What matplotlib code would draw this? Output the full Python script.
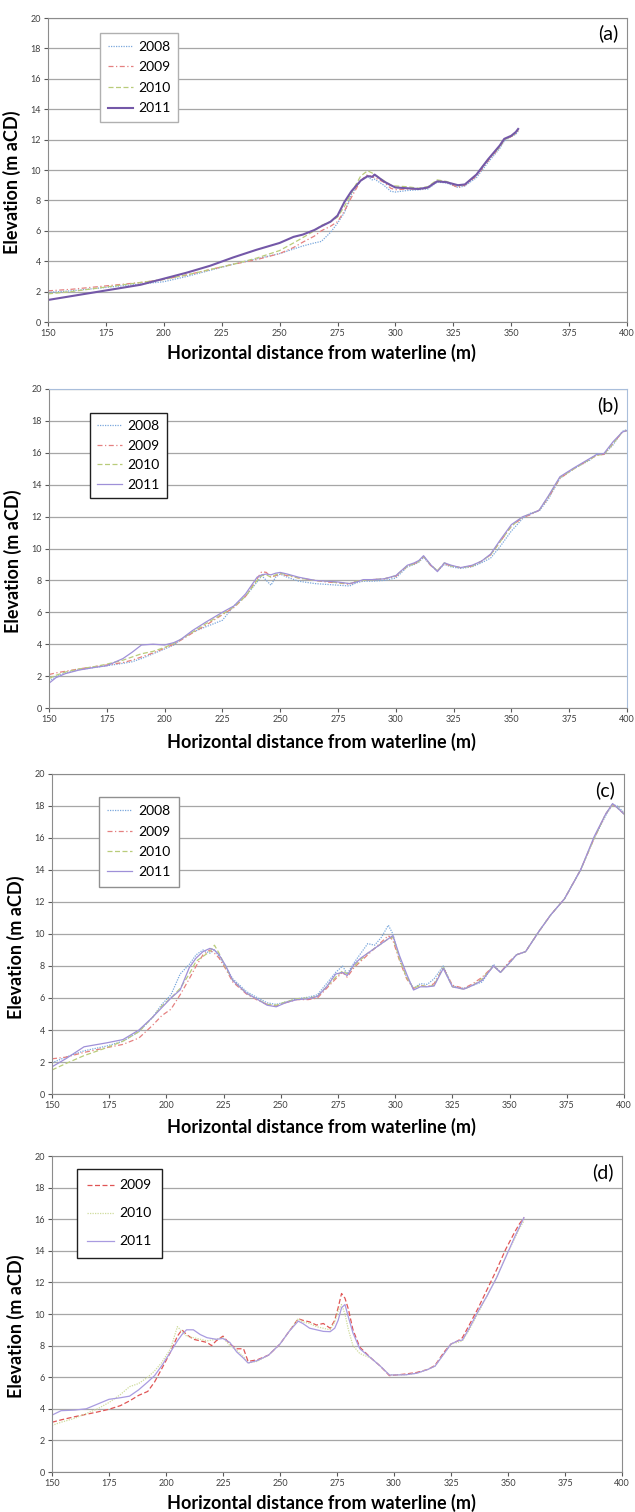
import matplotlib
matplotlib.use('Agg')
import matplotlib.pyplot as plt

plt.rcParams['font.family'] = ['Lato', 'DejaVu Sans']

# ---- data ----
years = ['2008', '2009', '2010', '2011']

# panel (a)
a_x = [150, 160, 170, 180, 190, 200, 210, 220, 230, 240, 250, 256, 260, 265, 268, 272, 275, 278, 281, 285,
       288, 290, 291, 295, 298, 300, 305, 310, 314, 318, 322, 327, 330, 335, 340, 345, 347, 350, 352, 353]
a_2008 = [1.95, 2.05, 2.2, 2.35, 2.5, 2.65, 3.0, 3.4, 3.8, 4.15, 4.5, 4.8, 5.0, 5.2, 5.3, 5.9, 6.5, 7.2, 8.4, 9.3,
          9.55, 9.35, 9.4, 9.0, 8.6, 8.55, 8.65, 8.7, 8.75, 9.2, 9.15, 8.85, 8.95, 9.5, 10.5, 11.4, 11.9, 12.2, 12.35, 12.55]
a_2009 = [2.05, 2.15, 2.3, 2.45, 2.6, 2.8, 3.1, 3.45, 3.8, 4.1, 4.5, 4.9, 5.25, 5.65, 6.0, 6.3, 6.6, 7.3, 8.2, 9.3,
          9.7, 9.55, 9.5, 9.2, 8.8, 8.7, 8.75, 8.75, 8.8, 9.3, 9.2, 8.85, 9.0, 9.6, 10.6, 11.5, 12.0, 12.2, 12.4, 12.6]
a_2010 = [1.85, 2.0, 2.2, 2.4, 2.6, 2.8, 3.1, 3.45, 3.8, 4.2, 4.7, 5.2, 5.55, 6.0, 6.35, 6.6, 6.9, 7.6, 8.5, 9.6,
          9.95, 9.8, 9.7, 9.3, 9.0, 8.95, 8.9, 8.8, 8.9, 9.35, 9.25, 8.95, 9.05, 9.7, 10.7, 11.5, 12.0, 12.2, 12.45, 12.6]
a_2011 = [1.45, 1.7, 1.95, 2.2, 2.45, 2.85, 3.25, 3.7, 4.25, 4.75, 5.2, 5.6, 5.75, 6.05, 6.3, 6.6, 7.0, 7.9, 8.6, 9.3,
          9.6, 9.55, 9.7, 9.25, 9.0, 8.85, 8.8, 8.75, 8.85, 9.25, 9.2, 9.0, 9.05, 9.7, 10.7, 11.6, 12.05, 12.25, 12.5, 12.7]

# panel (b)
b_x = [150, 153, 157, 163, 170, 175, 182, 186, 190, 195, 200, 204, 207, 212, 218, 225, 230, 235, 240, 242,
       244, 246, 248, 250, 253, 258, 265, 270, 275, 280, 283, 286, 290, 295, 300, 305, 308, 310, 312, 315,
       318, 321, 324, 328, 333, 337, 341, 345, 350, 355, 358, 362, 366, 371, 377, 384, 387, 390, 394, 398, 400]
b_2008 = [1.7, 1.95, 2.2, 2.4, 2.55, 2.65, 2.8, 2.9, 3.1, 3.4, 3.7, 3.95, 4.3, 4.75, 5.1, 5.5, 6.4, 7.0, 7.9, 8.3,
          8.0, 7.7, 8.2, 8.4, 8.2, 7.95, 7.8, 7.75, 7.7, 7.65, 7.85, 7.95, 7.95, 8.0, 8.15, 8.85, 9.0, 9.15, 9.45, 8.95,
          8.6, 9.0, 8.85, 8.75, 8.85, 9.1, 9.4, 10.1, 11.1, 11.9, 12.2, 12.35, 13.1, 14.4, 15.0, 15.55, 15.95, 15.9, 16.5, 17.35, 17.45]
b_2009 = [2.1, 2.2, 2.3, 2.45, 2.6, 2.7, 2.85, 3.0, 3.2, 3.45, 3.75, 4.0, 4.25, 4.7, 5.2, 5.85, 6.3, 7.0, 8.1, 8.55,
          8.5, 8.2, 8.3, 8.4, 8.3, 8.15, 8.0, 7.9, 7.85, 7.75, 7.95, 8.0, 8.05, 8.1, 8.25, 8.9, 9.05, 9.2, 9.5, 8.95,
          8.6, 9.05, 8.9, 8.8, 8.9, 9.2, 9.6, 10.4, 11.4, 11.95, 12.1, 12.4, 13.2, 14.4, 15.0, 15.6, 15.85, 15.9, 16.6, 17.3, 17.4]
b_2010 = [1.85, 2.05, 2.25, 2.45, 2.6, 2.75, 3.0, 3.2, 3.4, 3.55, 3.8, 4.05, 4.3, 4.75, 5.3, 5.9, 6.35, 7.0, 8.0, 8.3,
          8.35, 8.2, 8.35, 8.45, 8.35, 8.15, 8.0, 7.95, 7.85, 7.8, 7.95, 8.0, 8.05, 8.1, 8.3, 8.9, 9.05, 9.2, 9.5, 9.0,
          8.6, 9.1, 8.9, 8.8, 8.9, 9.2, 9.6, 10.4, 11.4, 12.0, 12.15, 12.4, 13.25, 14.45, 15.0, 15.6, 15.85, 15.9, 16.6, 17.3, 17.4]
b_2011 = [1.55, 1.9, 2.15, 2.38, 2.55, 2.65, 3.1, 3.5, 3.95, 4.0, 3.95, 4.1, 4.3, 4.85, 5.4, 6.0, 6.4, 7.15, 8.2, 8.35,
          8.4, 8.35, 8.45, 8.5, 8.4, 8.2, 8.0, 7.95, 7.9, 7.8, 7.9, 8.05, 8.05, 8.1, 8.3, 8.95, 9.1, 9.25, 9.55, 9.0,
          8.55, 9.1, 8.95, 8.8, 8.95, 9.2, 9.65, 10.5, 11.5, 12.0, 12.15, 12.4, 13.3, 14.5, 15.05, 15.65, 15.9, 15.95, 16.7, 17.3, 17.4]

# panel (c)
c_x = [150, 156, 164, 174, 181, 188, 194, 198, 202, 206, 210, 213, 216, 219, 221, 223, 226, 229, 235, 240,
       244, 248, 252, 257, 262, 266, 270, 274, 277, 279, 282, 285, 288, 291, 294, 297, 299, 302, 305, 308,
       311, 314, 317, 321, 325, 330, 334, 338, 343, 346, 350, 353, 357, 363, 368, 374, 381, 387, 392, 395, 397, 400]
c_2008 = [1.95, 2.3, 2.7, 3.0, 3.3, 3.9, 4.8, 5.6, 6.2, 7.5, 8.1, 8.7, 9.0, 8.8, 9.0, 8.6, 7.9, 7.2, 6.4, 6.0,
          5.7, 5.6, 5.75, 5.95, 6.05, 6.2, 6.9, 7.6, 8.0, 7.5, 8.2, 8.8, 9.4, 9.3, 9.8, 10.55, 10.0, 8.4, 7.3, 6.6,
          6.9, 6.85, 7.2, 8.0, 6.75, 6.6, 6.8, 7.0, 8.1, 7.6, 8.2, 8.7, 8.9, 10.2, 11.2, 12.2, 14.0, 16.0, 17.4, 18.1, 18.0, 17.6]
c_2009 = [2.2, 2.3, 2.6, 2.9, 3.1, 3.5, 4.3, 4.9, 5.3, 6.2, 7.2, 8.0, 8.7, 9.0, 8.8, 8.5, 7.8, 7.0, 6.25, 5.85,
          5.6, 5.5, 5.7, 5.9, 5.9, 6.0, 6.6, 7.2, 7.6, 7.3, 7.9, 8.3, 8.7, 9.1, 9.5, 9.9, 9.6, 8.3, 7.2, 6.6,
          6.8, 6.7, 6.9, 7.9, 6.8, 6.6, 6.9, 7.3, 8.0, 7.6, 8.3, 8.7, 8.9, 10.2, 11.2, 12.2, 14.0, 16.0, 17.5, 18.1, 17.9, 17.5]
c_2010 = [1.5, 1.9, 2.4, 2.9, 3.3, 3.9, 4.8, 5.5, 6.0, 6.6, 7.5, 8.3, 8.6, 8.9, 9.3, 8.8, 7.9, 7.1, 6.3, 5.9,
          5.6, 5.55, 5.75, 5.95, 6.0, 6.1, 6.7, 7.3, 7.7, 7.5, 8.0, 8.4, 8.8, 9.1, 9.4, 9.7, 9.8, 8.4, 7.3, 6.6,
          6.8, 6.7, 6.8, 7.9, 6.7, 6.55, 6.8, 7.2, 8.0, 7.6, 8.2, 8.7, 8.9, 10.2, 11.2, 12.2, 14.0, 16.0, 17.5, 18.1, 17.9, 17.5]
c_2011 = [1.7, 2.2, 2.95, 3.2, 3.4, 4.0, 4.8, 5.4, 6.0, 6.5, 7.9, 8.5, 8.9, 9.1, 9.0, 8.7, 8.0, 7.1, 6.3, 5.9,
          5.55, 5.45, 5.7, 5.9, 5.95, 6.1, 6.7, 7.5, 7.6, 7.4, 8.1, 8.5, 8.8, 9.1, 9.4, 9.7, 9.9, 8.6, 7.5, 6.5,
          6.7, 6.7, 6.75, 7.85, 6.7, 6.55, 6.8, 7.1, 8.0, 7.6, 8.2, 8.7, 8.9, 10.2, 11.2, 12.2, 14.0, 16.1, 17.5, 18.15, 17.9, 17.5]

# panel (d) - no 2008 survey
d_x = [150, 154, 160, 165, 170, 175, 180, 184, 188, 192, 195, 198, 202, 205, 207, 209, 212, 215, 218, 220,
       222, 225, 228, 231, 234, 236, 240, 245, 250, 254, 258, 260, 263, 266, 269, 272, 274, 275.5, 277, 278.5,
       280, 282, 285, 290, 294, 298, 305, 310, 315, 318, 322, 325, 328, 330, 333, 337, 341, 345, 349, 353, 355, 357]
d_2009 = [3.15, 3.3, 3.5, 3.65, 3.8, 3.97, 4.2, 4.5, 4.85, 5.1, 5.7, 6.5, 7.6, 8.6, 9.0, 8.7, 8.4, 8.3, 8.2, 8.0,
          8.3, 8.6, 8.1, 7.8, 7.8, 7.0, 7.1, 7.4, 8.1, 8.9, 9.7, 9.6, 9.5, 9.3, 9.4, 9.1, 9.6, 10.4, 11.3, 11.0,
          10.3, 9.0, 7.9, 7.2, 6.7, 6.1, 6.2, 6.3, 6.5, 6.75, 7.6, 8.1, 8.3, 8.5, 9.3, 10.4, 11.6, 12.8, 14.1, 15.2, 15.7, 16.1]
d_2010 = [2.95, 3.15, 3.4, 3.7, 4.0, 4.4, 4.9, 5.4, 5.6, 6.0, 6.4, 6.9, 7.8, 9.2, 8.9, 8.6, 8.5, 8.4, 8.3, 8.35,
          8.4, 8.5, 8.0, 7.7, 7.3, 6.9, 7.0, 7.4, 8.1, 8.9, 9.7, 9.5, 9.4, 9.2, 9.1, 9.0, 9.5, 10.2, 10.6, 10.0,
          9.0, 8.0, 7.5, 7.2, 6.7, 6.15, 6.15, 6.25, 6.5, 6.7, 7.5, 8.1, 8.2, 8.3, 9.0, 10.1, 11.2, 12.3, 13.6, 14.8, 15.4, 15.9]
d_2011 = [3.6, 3.88, 3.92, 4.0, 4.3, 4.6, 4.7, 4.8, 5.2, 5.7, 6.1, 6.7, 7.6, 8.3, 8.7, 9.0, 9.0, 8.7, 8.5, 8.45,
          8.4, 8.45, 8.2, 7.6, 7.2, 6.9, 7.05, 7.4, 8.1, 8.9, 9.55, 9.4, 9.1, 9.0, 8.9, 8.88, 9.1, 9.6, 10.4, 10.6,
          9.8, 8.8, 7.8, 7.2, 6.7, 6.14, 6.15, 6.25, 6.5, 6.7, 7.5, 8.1, 8.3, 8.35, 9.1, 10.2, 11.2, 12.3, 13.6, 14.9, 15.5, 16.1]

x_ticks = [150, 175, 200, 225, 250, 275, 300, 325, 350, 375, 400]
y_ticks = [0, 2, 4, 6, 8, 10, 12, 14, 16, 18, 20]

W, H = 635, 1512
fig = plt.figure(figsize=(W / 100, H / 100), dpi=100)


def make_axes(left, right, top, bottom):
    return fig.add_axes([left / W, 1 - bottom / H, (right - left) / W, (bottom - top) / H])


def style_axes(ax, letter, xlab_y, border='#8c8c8c'):
    ax.set_xlim(150, 400)
    ax.set_ylim(0, 20)
    ax.set_xticks(x_ticks)
    ax.set_yticks(y_ticks)
    ax.tick_params(labelsize=6.5, colors='#595959', length=3, width=0.8, pad=2)
    ax.tick_params(axis='both', labelcolor='#404040')
    ax.grid(axis='y', color='#a6a6a6', lw=0.9)
    ax.set_axisbelow(True)
    for s in ['left', 'bottom']:
        ax.spines[s].set_color('#8c8c8c')
    ax.spines['right'].set_color(border)
    ax.spines['top'].set_color(border)
    ax.text(0.985, 0.95, '(' + letter + ')', transform=ax.transAxes, ha='right', va='center', fontsize=14)
    ax.set_ylabel('Elevation (m aCD)', fontsize=13, fontweight='bold', labelpad=1)
    ax.yaxis.set_label_coords(-0.047, 0.46)
    fig.text(476 / W, 1 - xlab_y / H, 'Horizontal distance from waterline (m)',
             ha='right', va='center', fontsize=13, fontweight='bold')


styles = {
    '2008': dict(color='#79a7dc', ls=(0, (1, 1)), lw=0.9),
    '2009': dict(color='#e58080', ls=(0, (4, 2, 1, 2)), lw=0.9),
    '2010': dict(color='#b9cc7a', ls=(0, (4, 2)), lw=0.9),
    '2011': dict(color='#9f90d8', ls='-', lw=0.9),
}
leg_kw = dict(loc='upper left', bbox_transform=fig.transFigure, fontsize=10, frameon=True,
              fancybox=False, framealpha=1, borderaxespad=0, handletextpad=0.4)

# (a)
ax = make_axes(48, 627, 18, 322)
for yr, ys in zip(years, [a_2008, a_2009, a_2010, a_2011]):
    st = dict(styles[yr])
    if yr == '2011':
        st.update(color='#7458a8', lw=1.5)
    ax.plot(a_x, ys, label=yr, **st)
style_axes(ax, 'a', 353)
ax.legend(bbox_to_anchor=(100 / W, 1 - 33 / H), edgecolor='#b0b0b0',
          handlelength=1.8, labelspacing=0.62, borderpad=0.55, **leg_kw)

# (b)
ax = make_axes(49, 627, 389, 708)
for yr, ys in zip(years, [b_2008, b_2009, b_2010, b_2011]):
    ax.plot(b_x, ys, label=yr, **styles[yr])
style_axes(ax, 'b', 742, border='#a9bedb')
ax.legend(bbox_to_anchor=(90 / W, 1 - 413 / H), edgecolor='#202020',
          handlelength=1.8, labelspacing=0.55, borderpad=0.5, **leg_kw)

# (c)
ax = make_axes(52, 624, 774, 1094)
for yr, ys in zip(years, [c_2008, c_2009, c_2010, c_2011]):
    ax.plot(c_x, ys, label=yr, **styles[yr])
style_axes(ax, 'c', 1127)
ax.legend(bbox_to_anchor=(99 / W, 1 - 797 / H), edgecolor='#909090',
          handlelength=1.8, labelspacing=0.6, borderpad=0.6, **leg_kw)

# (d)
d_styles = {
    '2009': dict(color='#e05555', ls=(0, (4, 2)), lw=0.9),
    '2010': dict(color='#cfdc9c', ls=(0, (1, 1)), lw=0.9),
    '2011': dict(color='#a99be0', ls='-', lw=0.9),
}
ax = make_axes(52, 622, 1156, 1472)
for yr, ys in zip(years[1:], [d_2009, d_2010, d_2011]):
    ax.plot(d_x, ys, label=yr, **d_styles[yr])
style_axes(ax, 'd', 1503)
ax.legend(bbox_to_anchor=(77 / W, 1 - 1169 / H), edgecolor='#202020',
          handlelength=1.9, labelspacing=1.15, borderpad=0.75, **leg_kw)

fig.savefig('out.png', dpi=100)
